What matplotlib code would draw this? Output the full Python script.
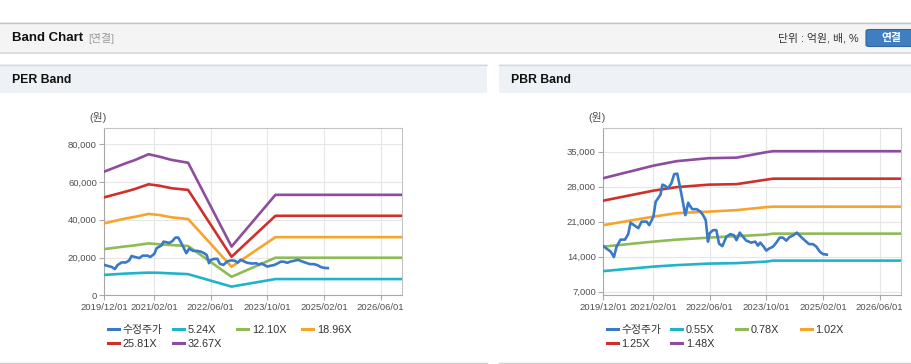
"""PER / PBR band chart (수정주가 with valuation bands)."""
import matplotlib

matplotlib.use("Agg")

import matplotlib.dates as mdates
import matplotlib.pyplot as plt
import pandas as pd
from matplotlib.lines import Line2D
from matplotlib.patches import FancyBboxPatch, Rectangle
from matplotlib.ticker import FuncFormatter

FIG_W, FIG_H = 912, 364

# adjusted share price, shared by both panels
price_dates = [
    "2019-12-01", "2019-12-29", "2020-02-03", "2020-03-01", "2020-03-24", "2020-04-27",
    "2020-06-04", "2020-07-02", "2020-07-22", "2020-08-20", "2020-09-27", "2020-10-25",
    "2020-12-07", "2020-12-30", "2021-02-03", "2021-02-23", "2021-03-16", "2021-04-05",
    "2021-04-22", "2021-05-12", "2021-06-10", "2021-07-08", "2021-08-01", "2021-08-27",
    "2021-09-13", "2021-10-11", "2021-11-04", "2021-11-15", "2021-11-29", "2021-12-13",
    "2022-01-03", "2022-02-09", "2022-03-14", "2022-04-06", "2022-04-29", "2022-05-18",
    "2022-06-02", "2022-07-01", "2022-07-29", "2022-08-21", "2022-09-19", "2022-10-23",
    "2022-11-27", "2022-12-25", "2023-01-18", "2023-02-15", "2023-03-14", "2023-04-12",
    "2023-05-24", "2023-06-28", "2023-07-21", "2023-08-10", "2023-09-08", "2023-10-01",
    "2023-10-24", "2023-11-28", "2023-12-26", "2024-01-24", "2024-02-21", "2024-03-20",
    "2024-04-18", "2024-05-22", "2024-06-20", "2024-07-27", "2024-09-03", "2024-10-02",
    "2024-11-05", "2024-12-04", "2025-01-02", "2025-01-31", "2025-03-04",
]
price_values = [
    16100, 15600, 15000, 13900, 16000, 17400,
    17400, 18500, 20800, 20300, 19700, 21000,
    21000, 20300, 22000, 25000, 25700, 26400,
    28400, 28200, 27700, 28700, 30500, 30600,
    28700, 25400, 22300, 23300, 24800, 24200,
    23500, 23500, 23000, 22300, 21300, 17000,
    18700, 19300, 19300, 16600, 16100, 18000,
    18500, 18300, 17300, 18800, 18000, 17200,
    16800, 17000, 16200, 16800, 16000, 15200,
    15600, 16000, 16800, 17800, 17800, 17200,
    17900, 18300, 18800, 17900, 17100, 16500,
    16500, 16000, 15000, 14500, 14400,
]

# PER band lines
per_band_dates = [
    "2019-12-01", "2020-06-01", "2020-08-15", "2020-12-15", "2021-03-20",
    "2021-07-01", "2021-11-20", "2022-11-28", "2023-12-10", "2026-12-01",
]
per_labels = ["5.24X", "12.10X", "18.96X", "25.81X", "32.67X"]
per_5_24 = [10800, 11500, 11700, 12000, 11900, 11600, 11200, 4600, 8600, 8600]
per_12_10 = [24500, 25900, 26400, 27500, 27000, 26600, 26100, 9800, 19900, 19900]
per_18_96 = [38100, 40700, 41500, 43100, 42500, 41300, 40400, 15100, 30800, 30800]
per_25_81 = [51900, 54900, 56200, 58800, 58000, 56700, 55800, 20400, 42100, 42100]
per_32_67 = [65500, 69900, 71500, 74700, 73400, 71700, 70200, 25800, 53200, 53200]

# PBR band lines
pbr_band_dates = [
    "2019-12-01", "2021-02-03", "2021-08-21", "2022-05-24",
    "2023-01-18", "2023-09-30", "2023-11-28", "2026-12-01",
]
pbr_labels = ["0.55X", "0.78X", "1.02X", "1.25X", "1.48X"]
pbr_0_55 = [11100, 12000, 12300, 12600, 12700, 13000, 13200, 13200]
pbr_0_78 = [16000, 17000, 17400, 17800, 18100, 18400, 18600, 18600]
pbr_1_02 = [20300, 22000, 22700, 23000, 23300, 23900, 24000, 24000]
pbr_1_25 = [25200, 27200, 27900, 28400, 28500, 29400, 29600, 29600]
pbr_1_48 = [29700, 32200, 33100, 33700, 33800, 34900, 35100, 35100]

x_tick_dates = ["2019-12-01", "2021-02-01", "2022-06-01", "2023-10-01", "2025-02-01", "2026-06-01"]
per_y_ticks = [0, 20000, 40000, 60000, 80000]
pbr_y_ticks = [7000, 14000, 21000, 28000, 35000]

PRICE_LABEL = "수정주가"
PRICE_COLOR = "#3a78c8"
BAND_COLORS = ["#1fb4c8", "#8fbb56", "#f5a52c", "#d0302b", "#8e4ca0"]
TICK_COLOR = "#505050"

plt.rcParams["font.family"] = ["Liberation Sans", "Noto Sans CJK KR", "DejaVu Sans"]


def fxy(x, y):
    """pixel position (origin top-left) -> figure fraction"""
    return x / FIG_W, 1 - y / FIG_H


def add_rect(fig, x0, y0, x1, y1, **kw):
    fig.add_artist(Rectangle(fxy(x0, y1), (x1 - x0) / FIG_W, (y1 - y0) / FIG_H,
                             transform=fig.transFigure, **kw))


def add_hline(fig, x0, x1, y, color, lw=1.0):
    fig.add_artist(Line2D([x0 / FIG_W, x1 / FIG_W], [1 - y / FIG_H] * 2,
                          transform=fig.transFigure, color=color, lw=lw))


def draw_panel(fig, left, band_dates, bands, labels, y_ticks, ylim, legend_x):
    ax = fig.add_axes([left / FIG_W, (FIG_H - 295.3) / FIG_H, 297.7 / FIG_W, 167.3 / FIG_H])

    bd = pd.to_datetime(band_dates)
    for values, color in zip(bands, BAND_COLORS):
        ax.plot(bd, values, color=color, lw=1.9, solid_joinstyle="round", zorder=3)
    ax.plot(pd.to_datetime(price_dates), price_values, color=PRICE_COLOR, lw=1.9,
            solid_joinstyle="round", zorder=4)

    ax.set_xlim(pd.Timestamp("2019-12-01"), pd.Timestamp("2026-12-01"))
    ax.set_ylim(*ylim)
    ax.set_xticks(pd.to_datetime(x_tick_dates))
    ax.xaxis.set_major_formatter(mdates.DateFormatter("%Y/%m/%d"))
    ax.set_yticks(y_ticks)
    ax.yaxis.set_major_formatter(FuncFormatter(lambda v, _: f"{int(v):,}"))

    ax.grid(True, color="#e6e6e6", lw=0.8, zorder=0)
    ax.set_axisbelow(True)
    for side in ("left", "bottom"):
        ax.spines[side].set_color("#a8a8a8")
    for side in ("top", "right"):
        ax.spines[side].set_color("#c4c4c4")
    ax.tick_params(axis="both", colors="#a8a8a8", labelcolor=TICK_COLOR,
                   labelsize=6.8, length=3.5, width=0.8)
    ax.tick_params(axis="x", pad=2.4)
    ax.tick_params(axis="y", pad=1.8)

    fig.text(*fxy(left - 15, 118), "(원)", color=TICK_COLOR, fontsize=7.8, va="center")

    handles = [Line2D([], [], color=PRICE_COLOR, lw=2.2)]
    handles += [Line2D([], [], color=c, lw=2.2) for c in BAND_COLORS]
    names = [PRICE_LABEL] + labels
    for i, (h, name) in enumerate(zip(handles, names)):
        row, col = divmod(i, 4)
        fig.legend(handles=[h], labels=[name], loc="center left",
                   bbox_to_anchor=fxy(legend_x + col * 64.7, 330 + row * 14),
                   frameon=False, borderpad=0, borderaxespad=0, handlelength=1.0,
                   handletextpad=0.35, fontsize=7.8, labelcolor="#333333")
    return ax


fig = plt.figure(figsize=(FIG_W / 100, FIG_H / 100), dpi=100)

# page header
add_rect(fig, 0, 22, FIG_W, 52, facecolor="#f4f4f4", edgecolor="none")
add_hline(fig, 0, FIG_W, 22.5, "#c4c4c4")
add_hline(fig, 0, FIG_W, 52.5, "#d6d6d6", lw=1.2)
fig.text(*fxy(12, 38), "Band Chart", fontsize=9.5, fontweight="bold", color="#111111", va="center")
fig.text(*fxy(88, 38.5), "[연결]", fontsize=7.8, color="#999999", va="center")
fig.text(*fxy(859, 38), "단위 : 억원, 배, %", fontsize=7.8, color="#333333", va="center", ha="right")
fig.add_artist(FancyBboxPatch(fxy(866, 46.5), 48 / FIG_W, 17 / FIG_H,
                              boxstyle="round,pad=0,rounding_size=0.004",
                              transform=fig.transFigure, facecolor="#3f7fc1",
                              edgecolor="#2e67a4", lw=0.8))
fig.text(*fxy(891, 38), "연결", fontsize=7.8, fontweight="bold", color="white", va="center", ha="center")

# panel headers and bottom rules
for x0, x1, title in ((0, 487, "PER Band"), (499, FIG_W, "PBR Band")):
    add_rect(fig, x0, 64, x1, 93, facecolor="#eef2f7", edgecolor="none")
    add_hline(fig, x0, x1, 64.5, "#d5d9de")
    add_hline(fig, x0, x1, 362.5, "#cfcfcf")
    fig.text(*fxy(x0 + 12, 80), title, fontsize=8.8, fontweight="bold", color="#111111", va="center")

draw_panel(fig, 104.3, per_band_dates,
           [per_5_24, per_12_10, per_18_96, per_25_81, per_32_67],
           per_labels, per_y_ticks, (0, 88600), 108)
draw_panel(fig, 603.3, pbr_band_dates,
           [pbr_0_55, pbr_0_78, pbr_1_02, pbr_1_25, pbr_1_48],
           pbr_labels, pbr_y_ticks, (6260, 39740), 606.7)

fig.savefig("out.png", dpi=100)
